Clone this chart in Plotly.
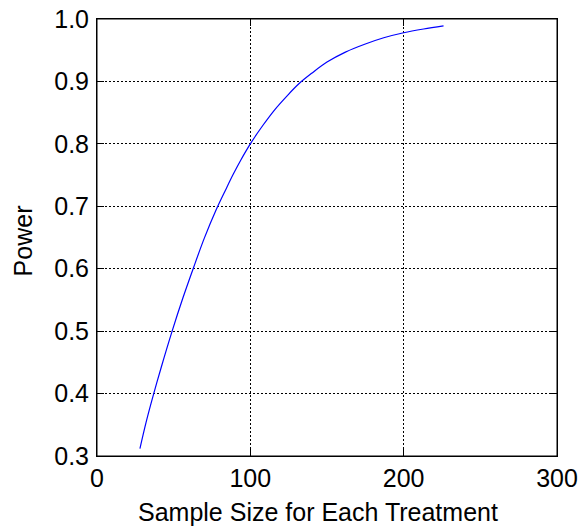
import plotly.graph_objects as go

sample_size = [28, 32, 37, 42, 49, 56, 63, 70, 78, 84, 89, 94, 100, 108, 116, 124, 132, 140, 150, 162, 175, 187, 200, 213, 226]
power = [0.312, 0.354, 0.40, 0.443, 0.50, 0.553, 0.602, 0.649, 0.696, 0.727, 0.752, 0.775, 0.80, 0.829, 0.855, 0.877, 0.897, 0.913, 0.931, 0.947, 0.960, 0.970, 0.978, 0.984, 0.989]

x_ticks = [0, 100, 200, 300]
y_ticks = [0.3, 0.4, 0.5, 0.6, 0.7, 0.8, 0.9, 1.0]
y_tick_text = ["0.3", "0.4", "0.5", "0.6", "0.7", "0.8", "0.9", "1.0"]
x_title = "Sample Size for Each Treatment"
y_title = "Power"

FONT = "Liberation Sans, Arial, sans-serif"
FS = 25

fig = go.Figure()
fig.add_trace(go.Scatter(
    x=sample_size, y=power, mode="lines",
    line=dict(color="#0000ff", width=1.2, shape="spline", smoothing=1.0),
    showlegend=False, hoverinfo="x+y",
))

axis_common = dict(
    showline=True, linecolor="black", linewidth=1, mirror="allticks",
    ticks="inside", ticklen=7, tickcolor="black", tickwidth=1,
    showgrid=True, gridcolor="black", gridwidth=1, griddash="2px,2px",
    zeroline=False, automargin=False, ticklabeloverflow="allow",
    tickfont=dict(family=FONT, size=FS, color="black"),
)

fig.update_xaxes(range=[0, 300], tickvals=x_ticks, **axis_common)
fig.update_yaxes(range=[0.3, 1.0], tickvals=y_ticks, ticktext=y_tick_text,
                 ticklabelstandoff=2, **axis_common)

# plot frame
fig.add_shape(type="rect", xref="paper", yref="paper", x0=0, y0=0, x1=1, y1=1,
              line=dict(color="black", width=1), layer="above")

# axis titles (placed as in the reference)
fig.add_annotation(text=x_title, xref="paper", yref="paper", x=0.480, y=-0.128,
                   xanchor="center", yanchor="middle", showarrow=False,
                   font=dict(family=FONT, size=FS, color="black"))
fig.add_annotation(text=y_title, xref="paper", yref="paper", x=-0.160, y=0.492,
                   xanchor="center", yanchor="middle", showarrow=False, textangle=-90,
                   font=dict(family=FONT, size=FS, color="black"))

fig.update_layout(
    width=581, height=529,
    margin=dict(l=97, r=24, t=19, b=73),
    paper_bgcolor="white", plot_bgcolor="white",
)

fig.write_html(
    "out.html",
    config={"displayModeBar": False},
    post_script="document.body.style.margin='0';document.body.style.overflow='hidden';",
)
